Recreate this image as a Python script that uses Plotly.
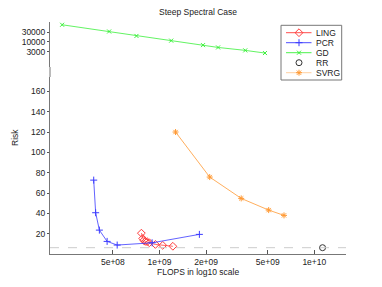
import plotly.graph_objects as go

# Data
ling_x = [7.64e8, 7.79e8, 7.91e8, 8.11e8, 8.32e8, 8.6e8, 9.41e8, 1.05e9, 1.22e9]
ling_y = [20.5, 15.3, 13.4, 12.4, 12.1, 11.1, 9.4, 8.5, 7.6]

pcr_x = [3.76e8, 3.87e8, 4.09e8, 4.59e8, 5.33e8, 8.96e8, 1.81e9]
pcr_y = [72.7, 40.6, 23.5, 12.4, 8.8, 11.0, 19.3]

gd_x = [2.35e8, 4.73e8, 7.1e8, 1.19e9, 1.91e9, 2.39e9, 3.58e9, 4.8e9]
gd_y = [75500, 33800, 19800, 11300, 6610, 5000, 3520, 2560]

rr_x = [1.13e10]
rr_y = [6.2]

svrg_x = [1.27e9, 2.11e9, 3.37e9, 5.07e9, 6.37e9]
svrg_y = [120, 75.7, 54.7, 43.2, 38.0]

baseline = 6.2

x_tickvals = [5e8, 1e9, 2e9, 5e9, 1e10]
x_ticktext = ["5e+08", "1e+09", "2e+09", "5e+09", "1e+10"]
low_tickvals = [20, 40, 60, 80, 100, 120, 140, 160]
top_tickvals = [3000, 10000, 30000]
top_ticktext = ["3000", "10000", "30000"]

legend_names = ["LING", "PCR", "GD", "RR", "SVRG"]

# styles
FONT = "Liberation Sans"
FS = 8.5
C_LING = "#ff3b3b"
C_PCR = "#3b3bff"
C_GD = "#3bf03b"
C_RR = "#333333"
C_SVRG = "#ff9933"
AX = "#777777"

styles = {
    "LING": dict(color=C_LING, symbol="diamond-open", size=6, lw=0.8, line=True),
    "PCR": dict(color=C_PCR, symbol="cross-thin-open", size=5, lw=0.8, line=True),
    "GD": dict(color=C_GD, symbol="x-thin-open", size=4, lw=0.8, line=True),
    "RR": dict(color=C_RR, symbol="circle-open", size=6, lw=0.8, line=False),
    "SVRG": dict(color=C_SVRG, symbol="asterisk-open", size=5, lw=0.8, line=True),
}

# page has 8px body margin -> figure origin at (8,8) of window
OFF = 8
W, H = 382 - OFF, 287 - OFF
PL, PR, PT, PB = 50, 346, 22, 254  # plot area in window pixels
PW, PH = PR - PL, PB - PT


def px_x(x):
    return (x - PL) / PW


def px_y(y):
    return (PB - y) / PH


fig = go.Figure()


def add_series(name, xs, ys, yaxis):
    s = styles[name]
    fig.add_trace(go.Scatter(
        x=xs, y=ys, mode="lines+markers" if s["line"] else "markers", name=name,
        line=dict(color=s["color"], width=s["lw"]),
        marker=dict(symbol=s["symbol"], size=s["size"], color=s["color"],
                    line=dict(width=1, color=s["color"])),
        yaxis=yaxis, xaxis="x", showlegend=False))


add_series("LING", ling_x, ling_y, "y")
add_series("PCR", pcr_x, pcr_y, "y")
add_series("GD", gd_x, gd_y, "y2")
add_series("RR", rr_x, rr_y, "y")
add_series("SVRG", svrg_x, svrg_y, "y")

# dashed reference line
fig.add_hline(y=baseline, line=dict(color="#cccccc", width=1, dash="dash"), yref="y")

low_top = px_y(77)
top_bot = px_y(67)

# manual legend on an invisible pixel-scaled axis pair
LG_L, LG_R, LG_T, LG_B = 281, 341.7, 25.3, 80
row_y = [32.7, 42.7, 52.7, 62.7, 72.7]
line_x0, line_x1, mark_x, text_x = 286, 311.5, 299, 313.5
for name, ry in zip(legend_names, row_y):
    s = styles[name]
    if s["line"]:
        fig.add_trace(go.Scatter(x=[line_x0, line_x1], y=[ry, ry], mode="lines",
                                 line=dict(color=s["color"], width=1), opacity=0.9 if name != "SVRG" else 0.45,
                                 xaxis="x2", yaxis="y3", showlegend=False, hoverinfo="skip"))
    fig.add_trace(go.Scatter(x=[mark_x], y=[ry], mode="markers",
                             marker=dict(symbol=s["symbol"], size=s["size"], color=s["color"],
                                         line=dict(width=1, color=s["color"])),
                             xaxis="x2", yaxis="y3", showlegend=False, hoverinfo="skip"))

annotations = [
    dict(text="FLOPS in log10 scale", xref="paper", yref="paper", x=0.5, y=px_y(272),
         xanchor="center", yanchor="middle", showarrow=False, font=dict(size=FS)),
    dict(text="Risk", xref="paper", yref="paper", x=px_x(15), y=px_y(138),
         xanchor="center", yanchor="middle", showarrow=False, textangle=-90, font=dict(size=FS)),
]
for name, ry in zip(legend_names, row_y):
    annotations.append(dict(text=name, xref="paper", yref="paper", x=px_x(text_x), y=px_y(ry),
                            xanchor="left", yanchor="middle", showarrow=False,
                            font=dict(size=FS), xshift=0))

fig.update_layout(
    width=W, height=H,
    margin=dict(l=PL - OFF, r=W - (PR - OFF), t=PT - OFF, b=H - (PB - OFF), pad=0),
    paper_bgcolor="white", plot_bgcolor="rgba(0,0,0,0)",
    font=dict(family=FONT, size=FS, color="#222222"),
    showlegend=False,
    title=dict(text="Steep Spectral Case", x=((PL + PR) / 2 - OFF) / W, xanchor="center",
               y=1 - (12 - OFF) / H, yanchor="middle", font=dict(size=FS, color="#222222")),
    xaxis=dict(type="log", range=[8.2929, 10.2045], tickvals=x_tickvals, ticktext=x_ticktext,
               ticks="inside", ticklen=4, tickcolor="#555555", showline=True, linecolor=AX,
               linewidth=1, showgrid=False, zeroline=False, domain=[0, 1]),
    yaxis=dict(domain=[0, low_top], range=[0, (PB - 77) / 1.0164], tickvals=low_tickvals,
               ticks="outside", ticklen=2, tickcolor="#555555", showline=True, linecolor=AX,
               linewidth=1, showgrid=False, zeroline=False),
    yaxis2=dict(domain=[top_bot, 1], type="log", range=[2.683, 5.022], tickvals=top_tickvals,
                ticktext=top_ticktext, ticks="outside", ticklen=2, tickcolor="#555555",
                showline=True, linecolor=AX, linewidth=1, showgrid=False, zeroline=False,
                anchor="x"),
    xaxis2=dict(domain=[0, 1], range=[PL, PR], visible=False, anchor="y3", fixedrange=True),
    yaxis3=dict(domain=[0, 1], range=[PB, PT], visible=False, anchor="x2", fixedrange=True),
    shapes=[
        dict(type="rect", xref="paper", yref="paper", x0=0, x1=1, y0=low_top, y1=top_bot,
             fillcolor="#e6e6e6", line=dict(width=0), layer="below"),
        dict(type="line", xref="paper", yref="paper", x0=0, x1=0, y0=low_top, y1=top_bot,
             line=dict(color=AX, width=1)),
        dict(type="rect", xref="paper", yref="paper", x0=px_x(LG_L), x1=px_x(LG_R),
             y0=px_y(LG_B), y1=px_y(LG_T), fillcolor="white",
             line=dict(color=AX, width=1), layer="below"),
    ],
    annotations=annotations,
)

fig.write_html("out.html")
